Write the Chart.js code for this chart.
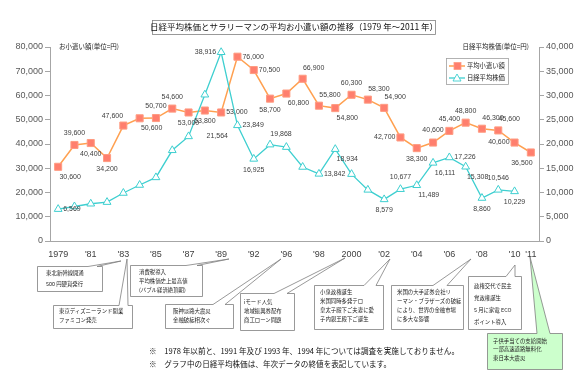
<!DOCTYPE html>
<html><head><meta charset="utf-8">
<script src="https://cdn.jsdelivr.net/npm/chart.js@4/dist/chart.umd.min.js"></script>
<style>
html,body{margin:0;padding:0;background:#fff;}
#wrap{position:relative;width:579px;height:388px;overflow:hidden;}
#c{position:absolute;left:0;top:0;}
#ov{position:absolute;left:0;top:0;}
</style></head>
<body><div id="wrap"><canvas id="c" width="579" height="388"></canvas>
<svg id="ov" width="579" height="388" xmlns="http://www.w3.org/2000/svg"></svg></div>
<script>
// ---- data ----
const years = ['1979','1980','1981','1982','1983','1984','1985','1986','1987','1988','1989','1990','1992','1995','1996','1997','1998','1999','2000','2001','2002','2003','2004','2005','2006','2007','2008','2009','2010','2011'];
const tickLabels = ['1979','',"'81",'',"'83",'',"'85",'',"'87",'',"'89",'',"'92",'',"'96",'',"'98",'','2000','',"'02",'',"'04",'',"'06",'',"'08",'',"'10","'11"];
const allowance = [30600,39600,40400,34200,47600,50600,50700,54600,53000,53800,53000,76000,70500,58700,60800,66900,55800,54800,60300,58300,54900,42700,38300,40600,45400,48800,46300,45600,40600,36500];
const nikkei = [6569,7116,7682,8017,9894,11543,13113,18701,21564,30159,38916,23849,16925,19868,19361,15259,13842,18934,13786,10543,8579,10677,11489,16111,17226,15308,8860,10546,10229,null];
// which nikkei points carry a value label (1 = shown)
const nikkeiLabelShown = [1,0,0,0,0,0,0,0,1,0,1,1,1,1,0,0,1,1,0,0,1,1,1,1,1,1,1,1,1,0];
// label placement codes
const allowanceLabelPos = ['br','a','b','b','al','br','a','a','b','b','r','r','r','b','br','ar','ar','br','a','ar','ar','l','b','a','a','a','ar','ar','l','bl'];
const nikkeiLabelPos    = ['r','','','','','','','','rr','','l','r','b','ar','','','r','br','','','b','a','br','br','r','br','b','a','b',''];
const seriesNames = ['平均小遣い額','日経平均株価'];

const ORANGE_LINE='#FFA050', ORANGE_PT='#FF7F6E', CYAN='#3ECFD0';
const offs = {a:[0,-12],b:[0,11],al:[-11,-10],ar:[11,-11],bl:[-9,11],br:[12,10]};

const labelPlugin = {
  id:'vlabels',
  afterDatasetsDraw(chart){
    const ctx=chart.ctx;
    ctx.save();
    ctx.font='7px "Liberation Sans", Arial, sans-serif';
    ctx.fillStyle='#404040';
    ctx.textBaseline='middle';
    const draw=(meta,vals,pos,shown)=>{
      meta.data.forEach((p,i)=>{
        if(vals[i]==null) return;
        if(shown && !shown[i]) return;
        const code=pos[i]; const txt=vals[i].toLocaleString('en-US');
        if(code==='r'||code==='rr'){ctx.textAlign='left';ctx.fillText(txt,p.x+(code==='rr'?18:5),p.y);}
        else if(code==='l'){ctx.textAlign='right';ctx.fillText(txt,p.x-5,p.y);}
        else {const o=offs[code];ctx.textAlign='center';ctx.fillText(txt,p.x+o[0],p.y+o[1]);}
      });
    };
    draw(chart.getDatasetMeta(0),allowance,allowanceLabelPos,null);
    draw(chart.getDatasetMeta(1),nikkei,nikkeiLabelPos,nikkeiLabelShown);
    ctx.restore();
  }
};

const tickFont={size:9,family:'"Liberation Sans", Arial, sans-serif'};
new Chart(document.getElementById('c'),{
  type:'line',
  data:{labels:years,datasets:[
    {label:seriesNames[0],data:allowance,yAxisID:'y',order:1,borderColor:ORANGE_LINE,borderWidth:1.5,
     pointStyle:'rect',pointRadius:5,pointBackgroundColor:ORANGE_PT,pointBorderColor:'#FF9C82',pointBorderWidth:1,tension:0},
    {label:seriesNames[1],data:nikkei,yAxisID:'y2',order:0,borderColor:CYAN,borderWidth:1.3,
     pointStyle:'triangle',pointRadius:4.5,pointBackgroundColor:'#ffffff',pointBorderColor:CYAN,pointBorderWidth:1,tension:0,spanGaps:false}
  ]},
  options:{
    responsive:false,animation:false,
    layout:{padding:{top:47,bottom:127,left:0,right:0}},
    plugins:{legend:{display:false},tooltip:{enabled:false},title:{display:false}},
    scales:{
      x:{offset:true,grid:{display:false,drawTicks:false},border:{color:'#a6a6a6',width:1},
         ticks:{autoSkip:false,maxRotation:0,padding:8,color:'#404040',font:tickFont,callback:(v,i)=>tickLabels[i]},
         afterFit:s=>{s.height=20;}},
      y:{position:'left',min:0,max:80000,grid:{drawOnChartArea:false,tickLength:5,color:'#a6a6a6'},border:{color:'#a6a6a6'},
         ticks:{stepSize:10000,padding:2,color:'#595959',font:tickFont,callback:v=>v.toLocaleString('en-US')},
         afterFit:s=>{s.width=50;}},
      y2:{position:'right',min:0,max:40000,grid:{drawOnChartArea:false,tickLength:5,color:'#a6a6a6'},border:{color:'#a6a6a6'},
         ticks:{stepSize:5000,padding:2,color:'#595959',font:tickFont,callback:v=>v.toLocaleString('en-US')},
         afterFit:s=>{s.width=40;}}
    }
  },
  plugins:[labelPlugin]
});

// ---- overlay: title, axis titles, legend, callouts, notes ----
const NS='http://www.w3.org/2000/svg';
const svg=document.getElementById('ov');
function el(tag,attrs,text){const e=document.createElementNS(NS,tag);for(const k in attrs)e.setAttribute(k,attrs[k]);if(text!=null)e.textContent=text;svg.appendChild(e);return e;}
const JP='"Noto Sans CJK JP","Noto Sans",sans-serif';

el('rect',{x:152.5,y:20.5,width:283,height:14,fill:'#fff',stroke:'#808080','stroke-width':0.8});
el('text',{x:294,y:28,'text-anchor':'middle','dominant-baseline':'middle','font-family':JP,'font-size':8.5,fill:'#111'},'日経平均株価とサラリーマンの平均お小遣い額の推移（1979 年～2011 年）');
el('text',{x:59,y:47,'dominant-baseline':'middle','font-family':JP,'font-size':6.5,fill:'#222'},'お小遣い額(単位=円)');
el('text',{x:529,y:47,'text-anchor':'end','dominant-baseline':'middle','font-family':JP,'font-size':6.5,fill:'#222'},'日経平均株価(単位=円)');

// legend
el('rect',{x:446.5,y:58.5,width:62,height:26,fill:'#fff',stroke:'#a0a0a0','stroke-width':0.8});
el('line',{x1:449,y1:66,x2:465,y2:66,stroke:ORANGE_LINE,'stroke-width':1.5});
el('rect',{x:454,y:62.5,width:7,height:7,fill:ORANGE_PT,stroke:'#FF9C82','stroke-width':0.8});
el('text',{x:467,y:66.5,'dominant-baseline':'middle','font-family':JP,'font-size':6.3,fill:'#222'},seriesNames[0]);
el('line',{x1:449,y1:78,x2:465,y2:78,stroke:CYAN,'stroke-width':1.3});
el('polygon',{points:'457,74 461,81 453,81',fill:'#fff',stroke:CYAN,'stroke-width':0.9});
el('text',{x:467,y:78.5,'dominant-baseline':'middle','font-family':JP,'font-size':6.3,fill:'#222'},seriesNames[1]);

// callouts: box [x1,y1,x2,y2], wedge base on top edge [wl,wr], tip [tx,ty]
const callouts=[
  {b:[37,266,102,291],w:[88,97],t:[121,261],tx:46,ly:[274,285],lines:['東北新幹線開通','500 円硬貨発行']},
  {b:[53,305,132,328],w:[119,128],t:[127,259],tx:59,ly:[312,321],lines:['東京ディズニーランド開業','ファミコン発売']},
  {b:[130,265,202,296],w:[186,197],t:[229,259],tx:139,ly:[273,282,291],lines:['消費税導入','平均株価史上最高値','(バブル経済絶頂期)']},
  {b:[165,304,233,328],w:[213,225],t:[281,259],tx:173,ly:[312,321],lines:['阪神淡路大震災','金融破綻相次ぐ']},
  {b:[240,293,294,330],w:[274,287],t:[345,258],tx:244,ly:[303,312,321],lines:['iモード人気','地域振興券配布','商工ローン問題']},
  {b:[314,285,383,329],w:[364,376],t:[390,259],tx:320,ly:[293,302,311,320],lines:['小泉政権誕生','米国同時多発テロ','皇太子殿下ご夫妻に愛','子内親王殿下ご誕生']},
  {b:[391,285,463,329],w:[433,447],t:[471,259],tx:397,ly:[293,302,311,320],lines:['米国の大手証券会社リ','ーマン・ブラザーズの破綻','により、世界の金融市場','に多大な影響']},
  {b:[468,276,521,329],w:[506,515],t:[515,265],tx:474,ly:[287,299,311,323],lines:['政権交代で民主','党政権誕生','5 月に家電 ECO','ポイント導入']},
  {b:[487,333,562,369],w:[537,550],t:[530,257],tx:493,ly:[342,350,359],lines:['子供手当ての支給開始','一部高速道路無料化','東日本大震災'],fill:'#CCFFCC'}
];
callouts.forEach(c=>{
  const [x1,y1,x2,y2]=c.b;
  const d=`M${x1+.5},${y1+.5} L${c.w[0]},${y1+.5} L${c.t[0]},${c.t[1]} L${c.w[1]},${y1+.5} L${x2+.5},${y1+.5} L${x2+.5},${y2+.5} L${x1+.5},${y2+.5} Z`;
  el('path',{d,fill:c.fill||'#fff',stroke:'#7f7f7f','stroke-width':0.8});
  c.lines.forEach((s,i)=>el('text',{x:c.tx,y:c.ly[i],'dominant-baseline':'middle','font-family':JP,'font-size':5.4,fill:'#222'},s));
});

el('text',{x:149,y:352,'dominant-baseline':'middle','font-family':JP,'font-size':7.6,fill:'#111'},'※　1978 年以前と、1991 年及び 1993 年、1994 年については調査を実施しておりません。');
el('text',{x:149,y:365,'dominant-baseline':'middle','font-family':JP,'font-size':7.6,fill:'#111'},'※　グラフ中の日経平均株価は、年次データの終値を表記しています。');
</script></body></html>
